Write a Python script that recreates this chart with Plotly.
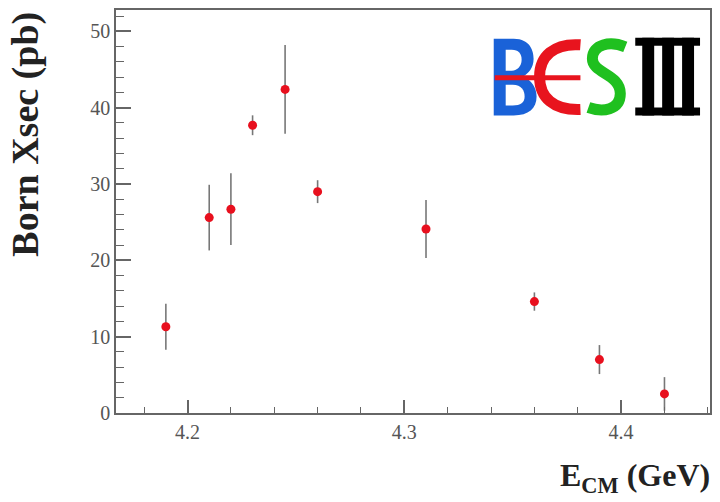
import plotly.graph_objects as go

# ---- data ----
ecm = [4.19, 4.21, 4.22, 4.23, 4.245, 4.26, 4.31, 4.36, 4.39, 4.42]
xsec = [11.3, 25.6, 26.7, 37.7, 42.4, 29.0, 24.1, 14.6, 7.0, 2.5]
xsec_err = [3.0, 4.3, 4.7, 1.3, 5.8, 1.5, 3.8, 1.2, 1.9, 2.2]

x_ticks = [4.2, 4.3, 4.4]
x_tick_labels = ["4.2", "4.3", "4.4"]
y_ticks = [0, 10, 20, 30, 40, 50]
y_tick_labels = ["0", "10", "20", "30", "40", "50"]

# ---- layout geometry (pixels) ----
W_FIG, H_FIG = 720, 502
L, R, T, B = 116, 8, 8, 89
PW = W_FIG - L - R
PH = H_FIG - T - B
BOTTOM = H_FIG - B


def px(xp):
    return (xp - L) / PW


def py(yp):
    return (BOTTOM - yp) / PH


def path(cmds):
    out = []
    for c in cmds:
        op = c[0]
        pts = c[1:]
        coords = []
        for i in range(0, len(pts), 2):
            coords.append(f"{px(pts[i]):.5f},{py(pts[i+1]):.5f}")
        out.append(op + " " + " ".join(coords))
    return " ".join(out)


serif = "Liberation Serif, Times New Roman, serif"
axis_col = "#666666"

fig = go.Figure()
fig.add_trace(go.Scatter(
    x=ecm, y=xsec, mode="markers",
    marker=dict(color="#e8101e", size=9),
    error_y=dict(type="data", array=xsec_err, visible=True,
                 color="#777777", thickness=1.6, width=0),
    showlegend=False,
))

fig.update_xaxes(
    range=[4.167, 4.441], tickvals=x_ticks, ticktext=x_tick_labels,
    ticks="inside", ticklen=13, tickwidth=1.5, tickcolor=axis_col,
    minor=dict(dtick=0.02, ticks="inside", ticklen=6, tickwidth=1.2, tickcolor=axis_col),
    showline=True, linecolor=axis_col, linewidth=1.5, mirror=True,
    showgrid=False, zeroline=False,
    tickfont=dict(family=serif, size=20, color="#555555"),
)
fig.update_yaxes(
    range=[0, 52.8], tickvals=y_ticks, ticktext=y_tick_labels,
    ticks="inside", ticklen=15, tickwidth=1.5, tickcolor=axis_col,
    minor=dict(dtick=2, ticks="inside", ticklen=8, tickwidth=1.2, tickcolor=axis_col),
    showline=True, linecolor=axis_col, linewidth=1.5, mirror=True,
    showgrid=False, zeroline=False,
    tickfont=dict(family=serif, size=20, color="#555555"),
)

annotations = [
    dict(text="<b>Born Xsec (pb)</b>", textangle=-90, xref="paper", yref="paper",
         x=px(25), y=py(133), xanchor="center", yanchor="middle", showarrow=False,
         font=dict(family=serif, size=38, color="#222222")),
    dict(text="<b>E<sub>CM</sub> (GeV)</b>", xref="paper", yref="paper",
         x=px(714), y=py(500), xanchor="right", yanchor="bottom", showarrow=False,
         font=dict(family=serif, size=32, color="#222222")),
]

blue, red, green = "#1a62d8", "#e8141e", "#1fc01f"
shapes = []
# B (blue, filled) with white counters
shapes.append(dict(type="path", xref="paper", yref="paper", line=dict(width=0), fillcolor=blue,
                   path=path([("M", 495, 37), ("L", 515, 37), ("C", 532, 37, 535, 50, 535, 57),
                              ("C", 535, 66, 530, 72, 524, 75), ("C", 533, 78, 538, 86, 538, 95),
                              ("C", 538, 107, 530, 114, 515, 114), ("L", 495, 114), ("Z",)])))
shapes.append(dict(type="path", xref="paper", yref="paper", line=dict(width=0), fillcolor="white",
                   path=path([("M", 507, 48), ("L", 513, 48), ("C", 520, 48, 523, 52, 523, 58),
                              ("C", 523, 64, 519, 69, 513, 69), ("L", 507, 69), ("Z",)])))
shapes.append(dict(type="path", xref="paper", yref="paper", line=dict(width=0), fillcolor="white",
                   path=path([("M", 507, 83), ("L", 514, 83), ("C", 523, 83, 526, 89, 526, 95),
                              ("C", 526, 101, 522, 104, 514, 104), ("L", 507, 104), ("Z",)])))
# red C-shape
shapes.append(dict(type="path", xref="paper", yref="paper", line=dict(width=11, color=red),
                   path=path([("M", 582, 43), ("C", 555, 41, 541, 55, 541, 75),
                              ("C", 541, 96, 555, 109, 582, 108)])))
# red bar
shapes.append(dict(type="path", xref="paper", yref="paper", line=dict(width=5, color=red),
                   path=path([("M", 496, 76), ("L", 582, 76)])))
# green S
shapes.append(dict(type="path", xref="paper", yref="paper", line=dict(width=11, color=green),
                   path=path([("M", 627, 45), ("C", 612, 39, 594, 42, 594, 57),
                              ("C", 594, 72, 622, 72, 622, 92),
                              ("C", 622, 109, 604, 111, 590, 106)])))
# black III
for (x0, y0, x1, y1) in [(637, 36, 702, 44), (637, 106, 702, 114),
                         (644, 36, 656, 114), (664, 36, 676, 114), (684, 36, 696, 114)]:
    shapes.append(dict(type="rect", xref="paper", yref="paper", line=dict(width=0),
                       fillcolor="black", x0=px(x0), x1=px(x1), y0=py(y1), y1=py(y0)))

fig.update_layout(
    width=W_FIG, height=H_FIG,
    margin=dict(l=L, r=R, t=T, b=B),
    paper_bgcolor="white", plot_bgcolor="white",
    annotations=annotations, shapes=shapes,
)

fig.write_html("out.html", config={"displayModeBar": False},
               post_script="document.body.style.margin='0';document.body.style.overflow='hidden';")
